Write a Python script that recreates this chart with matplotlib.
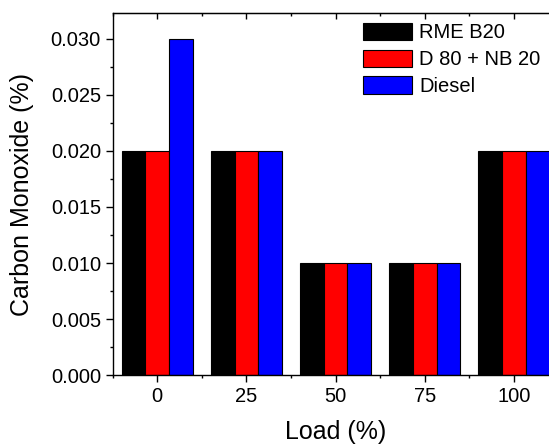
import matplotlib
matplotlib.use("Agg")
from matplotlib import pyplot as plt
from matplotlib.ticker import MultipleLocator

plt.rcParams['font.family'] = ['Liberation Sans', 'DejaVu Sans']

# data
loads = [0, 25, 50, 75, 100]
rme_b20 = [0.020, 0.020, 0.010, 0.010, 0.020]
d80_nb20 = [0.020, 0.020, 0.010, 0.010, 0.020]
diesel = [0.030, 0.020, 0.010, 0.010, 0.020]
series_names = ["RME B20", "D 80 + NB 20", "Diesel"]
series_colors = ["#000000", "#FF0000", "#0000FF"]

fig = plt.figure(figsize=(5.49, 4.46), dpi=100)
# axes runs off the right edge like the original picture
ax = fig.add_axes([112.7 / 549, 70.7 / 446, 445.8 / 549, 362.6 / 446])

w = 20 / 3
for i, (vals, name, col) in enumerate(zip([rme_b20, d80_nb20, diesel], series_names, series_colors)):
    xs = [x + (i - 1) * w for x in loads]
    ax.bar(xs, vals, width=w, color=col, edgecolor="black", linewidth=0.8, label=name)

ax.set_xlim(-12.5, 112.5)
ax.set_ylim(0, 0.0323)
ax.set_xticks(loads)
ax.xaxis.set_minor_locator(MultipleLocator(12.5))
ax.yaxis.set_major_locator(MultipleLocator(0.005))
ax.yaxis.set_minor_locator(MultipleLocator(0.0025))
ax.yaxis.set_major_formatter(matplotlib.ticker.FormatStrFormatter("%.3f"))

for sp in ax.spines.values():
    sp.set_linewidth(1.0)
ax.spines['right'].set_visible(False)

ax.tick_params(which="major", direction="out", length=5, width=1.0, labelsize=14.5, pad=3.5)
ax.tick_params(which="minor", direction="out", length=2.5, width=1.0)

# ticks on top point inward, no labels
top = ax.secondary_xaxis("top")
top.set_xticks(loads)
top.xaxis.set_minor_locator(MultipleLocator(12.5))
top.tick_params(which="major", direction="in", length=4, width=1.0, labeltop=False)
top.tick_params(which="minor", direction="in", length=2.5, width=1.0)

ax.set_xlabel("Load (%)", fontsize=18, labelpad=10)
ax.set_ylabel("Carbon Monoxide (%)", fontsize=18, labelpad=12)

ax.legend(loc="upper left", bbox_to_anchor=(363.3 / 549, 1 - 23.0 / 446),
          bbox_transform=fig.transFigure, frameon=False, fontsize=14.5,
          handlelength=2.42, handleheight=0.93, handletextpad=0.34,
          labelspacing=0.36, borderpad=0, borderaxespad=0)

fig.savefig("out.png", dpi=100)
